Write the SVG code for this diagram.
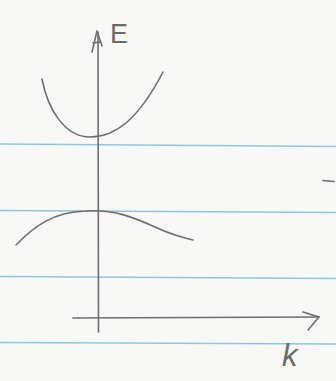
<svg xmlns="http://www.w3.org/2000/svg" width="336" height="381" viewBox="0 0 336 381">
<style>
.rule{stroke:#8cc6e6;stroke-width:1.5;fill:none}
.ink{stroke:#6e6e6e;stroke-width:1.6;fill:none;stroke-linecap:round;stroke-linejoin:round}
.lbl{font-family:"Liberation Sans",Arial,sans-serif;fill:#6a6a6a}
</style>
<rect width="336" height="381" fill="#f8f8f6"/>
<g id="paper">
<path class="rule" d="M0 144 L336 146.5"/>
<path class="rule" d="M0 210.5 L336 212.5"/>
<path class="rule" d="M0 276.5 L336 278.5"/>
<path class="rule" d="M0 342.5 L336 344"/>
<path class="ink" d="M323 180.5 L334 181.5" stroke-width="1.8"/>
</g>
<g id="axes">
<path class="ink" d="M98 32 L98.5 332"/>
<path class="ink" d="M92 52 L97 31 L102 46 M93 43 L100 42"/>
<path class="ink" d="M73 318 L319 317"/>
<path class="ink" d="M303 312 L319 317 L308 330"/>
</g>
<g id="bands">
<path class="ink" d="M42 79 C48 110 65 137 90 137 C115 137 138 120 163 72"/>
<path class="ink" d="M16 245 C35 225 55 212 85 211 C115 209 135 218 155 227 C170 234 180 237 193 240"/>
</g>
<g id="labels">
<text class="lbl" x="110" y="43" font-size="27">E</text>
<text class="lbl" x="282" y="366" font-size="31" font-style="italic">k</text>
</g>
</svg>
